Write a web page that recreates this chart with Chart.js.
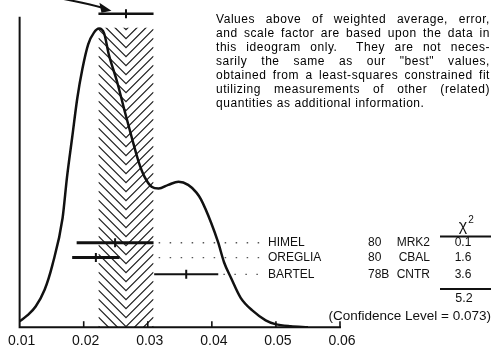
<!DOCTYPE html>
<html><head><meta charset="utf-8">
<script src="https://cdn.jsdelivr.net/npm/chart.js@4.4.1/dist/chart.umd.min.js"></script>
<style>
html,body{margin:0;padding:0;background:#fff;}
#wrap{position:relative;width:492px;height:357px;overflow:hidden;background:#fff;}
canvas{position:absolute;left:0;top:0;}
#note{position:absolute;left:216px;top:12px;width:274px;font-family:"Liberation Sans",Arial,sans-serif;font-size:12px;line-height:14px;color:#000;letter-spacing:0.55px;}
#note div{text-align:justify;text-align-last:justify;white-space:nowrap;}
#note div.last{text-align:left;text-align-last:left;}
</style>
</head><body>
<div id="wrap">
<canvas id="c" width="492" height="357"></canvas>
<div id="note">
<div>Values above of weighted average, error,</div>
<div>and scale factor are based upon the data in</div>
<div>this ideogram only.&nbsp; They are not neces-</div>
<div>sarily the same as our "best" values,</div>
<div>obtained from a least-squares constrained fit</div>
<div>utilizing measurements of other (related)</div>
<div class="last">quantities as additional information.</div>
</div>
</div>
<script>
// ---- data ----
const curveX = [0.0100,0.0112,0.0125,0.0139,0.0151,0.0167,0.0174,0.0182,0.0190,0.0198,0.0207,0.0216,0.0224,0.0232,0.0239,0.0252,0.0264,0.0275,0.0286,0.0295,0.0306,0.0317,0.0332,0.0348,0.0363,0.0376,0.0383,0.0399,0.0410,0.0419,0.0430,0.0445,0.0465,0.0484,0.0499,0.0523,0.0550];
const curveY = [0.019,0.038,0.067,0.121,0.200,0.352,0.486,0.613,0.740,0.835,0.914,0.952,0.965,0.949,0.883,0.794,0.698,0.613,0.533,0.486,0.454,0.448,0.460,0.470,0.460,0.435,0.413,0.337,0.273,0.210,0.159,0.095,0.051,0.022,0.010,0.003,0.000];
const names = ['HIMEL','OREGLIA','BARTEL'];
const years = ['80','80','78B'];
const experiments = ['MRK2','CBAL','CNTR'];
const values = [0.0249, 0.0219, 0.0360];
const errors = [0.0060, 0.0037, 0.0050];
const chi2 = ['0.1','1.6','3.6'];
const chi2Total = '5.2';
const confidenceLevel = '0.073';
const avgValue = 0.0266;
const avgError = 0.0043;
const tickValues = [0.01,0.02,0.03,0.04,0.05,0.06];
const tickLabels = ['0.01','0.02','0.03','0.04','0.05','0.06'];

// ---- layout (not data) ----
const rowLevel = [0.273, 0.225, 0.171];
const avgLevel = 1.013;
const hatchTop = 0.968;
const FONT = '"Liberation Sans", Arial, sans-serif';
const INK = '#111';

const datasets = [];
datasets.push({type:'line', data: curveX.map((x,i)=>({x, y: curveY[i]})), borderColor: INK, borderWidth: 2.5,
  pointRadius: 0, cubicInterpolationMode: 'monotone', showLine: true, order: 1});
const barWidths = [3, 3, 2];
values.forEach((v,i)=>{
  datasets.push({type:'line', data:[{x:v-errors[i], y:rowLevel[i]},{x:v+errors[i], y:rowLevel[i]}],
    borderColor: INK, borderWidth: barWidths[i], pointRadius: 0, showLine: true, order: 2});
  const leadStart = Math.max(v+errors[i], avgValue+avgError) + 0.0008;
  datasets.push({type:'line', data:[{x:leadStart, y:rowLevel[i]},{x:0.0482, y:rowLevel[i]}],
    borderColor: '#555', borderWidth: 1.3, borderDash:[1.5, 9.5], pointRadius: 0, showLine: true, order: 3});
});
datasets.push({type:'scatter', data: values.map((v,i)=>({x:v, y:rowLevel[i]})), pointStyle:'line', rotation: 90,
  pointRadius: 4.5, borderColor: INK, borderWidth: 2, order: 0});
datasets.push({type:'line', data:[{x:avgValue-avgError, y:avgLevel},{x:avgValue+avgError, y:avgLevel}],
  borderColor: INK, borderWidth: 2.5, pointRadius: 0, showLine: true, order: 2});
datasets.push({type:'scatter', data:[{x:avgValue, y:avgLevel}], pointStyle:'line', rotation: 90,
  pointRadius: 4.5, borderColor: INK, borderWidth: 2, order: 0});

const decor = {
  id: 'decor',
  beforeDatasetsDraw(chart){
    const {ctx, scales:{x, y}} = chart;
    const L = x.getPixelForValue(avgValue-avgError), R = x.getPixelForValue(avgValue+avgError);
    const T = y.getPixelForValue(hatchTop), B = y.getPixelForValue(0);
    const C = (L+R)/2, h = (R-L)/2;
    ctx.save();
    ctx.beginPath(); ctx.rect(L, T, R-L, B-T); ctx.clip();
    ctx.strokeStyle = '#222'; ctx.lineWidth = 1.3;
    for (let tip = T + 2; tip - h < B; tip += 9) {
      ctx.beginPath();
      ctx.moveTo(L, tip - h); ctx.lineTo(C, tip); ctx.lineTo(R, tip - h);
      ctx.stroke();
    }
    ctx.restore();
  },
  afterDraw(chart){
    const {ctx, scales:{x, y}} = chart;
    const x0 = x.getPixelForValue(0.01), x1 = x.getPixelForValue(0.06);
    const yb = y.getPixelForValue(0), yt = y.getPixelForValue(1.0);
    ctx.save();
    ctx.strokeStyle = INK; ctx.lineWidth = 2; ctx.lineCap = 'square';
    ctx.beginPath(); ctx.moveTo(x0, yt); ctx.lineTo(x0, yb); ctx.lineTo(x1, yb); ctx.stroke();
    ctx.lineWidth = 1.6; ctx.lineCap = 'butt';
    tickValues.slice(1).forEach(v=>{
      const px = x.getPixelForValue(v);
      ctx.beginPath(); ctx.moveTo(px, yb); ctx.lineTo(px, yb - 6); ctx.stroke();
    });
    // arrow pointing at the average
    const ax = x.getPixelForValue(avgValue-avgError), ay = y.getPixelForValue(avgLevel);
    ctx.lineWidth = 2;
    ctx.beginPath(); ctx.moveTo(ax - 36, ay - 15); ctx.quadraticCurveTo(ax - 10, ay - 10, ax + 4, ay - 6); ctx.stroke();
    ctx.fillStyle = INK;
    ctx.beginPath(); ctx.moveTo(ax + 13, ay - 3); ctx.lineTo(ax + 1, ay - 11); ctx.lineTo(ax + 3, ay - 1); ctx.closePath(); ctx.fill();

    // labels table
    ctx.fillStyle = INK; ctx.textBaseline = 'middle';
    names.forEach((n,i)=>{
      const py = y.getPixelForValue(rowLevel[i]);
      ctx.font = '12px ' + FONT;
      ctx.textAlign = 'left'; ctx.fillText(n, 268, py);
      ctx.fillText(years[i], 368, py);
      ctx.textAlign = 'right'; ctx.fillText(experiments[i], 430, py);
      ctx.textAlign = 'center'; ctx.fillText(chi2[i], 463, py);
    });
    ctx.font = '16px ' + FONT; ctx.textAlign = 'center';
    ctx.fillText('\u03C7', 463, 227);
    ctx.font = '10px ' + FONT; ctx.fillText('2', 471, 220);
    ctx.lineWidth = 2;
    ctx.beginPath(); ctx.moveTo(440, 236.5); ctx.lineTo(491, 236.5); ctx.stroke();
    ctx.beginPath(); ctx.moveTo(440, 289); ctx.lineTo(491, 289); ctx.stroke();
    ctx.font = '12.5px ' + FONT; ctx.fillText(chi2Total, 464, 299);
    ctx.font = '13.5px ' + FONT; ctx.textAlign = 'right';
    ctx.fillText('(Confidence Level = ' + confidenceLevel + ')', 491, 316);
    ctx.restore();
  }
};

new Chart(document.getElementById('c').getContext('2d'), {
  type: 'scatter',
  data: {datasets},
  options: {
    responsive: false, animation: false, devicePixelRatio: 1,
    layout: {padding: {left: 17, right: 152, top: 8.5, bottom: 1}},
    plugins: {legend: {display: false}, tooltip: {enabled: false}},
    scales: {
      x: {type: 'linear', min: 0.01, max: 0.06,
        afterBuildTicks: s => { s.ticks = tickValues.map(v => ({value: v})); },
        ticks: {callback: (v, i) => tickLabels[i], font: {family: FONT, size: 14}, color: INK,
          padding: 6, maxRotation: 0, autoSkip: false, labelOffset: 2},
        grid: {display: false, drawTicks: false}, border: {display: false}},
      y: {display: false, min: 0, max: 1.03}
    }
  },
  plugins: [decor]
});
</script>
</body></html>
